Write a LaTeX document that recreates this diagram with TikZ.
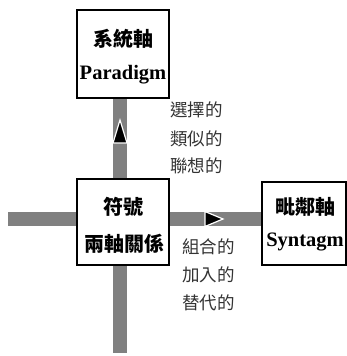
\documentclass[tikz,border=0pt]{standalone}
\usepackage{fontspec}
\setmainfont{Liberation Serif}
\newfontfamily\cjk{Noto Sans CJK TC}
\begin{document}
\begin{tikzpicture}[x=1pt,y=-1pt,
  box/.style={draw=black,line width=1.8pt,fill=white,inner sep=0pt},
  bar/.style={draw=black!50,line width=14pt},
  tri/.style={fill=black,draw=white,line width=1.2pt},
  zh/.style={font=\cjk\bfseries\fontsize{20}{22}\selectfont},
  en/.style={font=\bfseries\fontsize{20.5}{22}\selectfont},
  lab/.style={font=\cjk\fontsize{17.5}{19}\selectfont,text=black!80,anchor=west,inner sep=0pt}]
\useasboundingbox (0,0) rectangle (347,356);
% coordinates for the bars
\coordinate (vt) at (120,98);
\coordinate (vb) at (120,353);
\coordinate (hl) at (8,218.5);
\coordinate (hr) at (262,218.5);
% bars
\draw[bar] (vt) -- (vb);
\draw[bar] (hl) -- (hr);
% boxes
\node[box,minimum width=92pt,minimum height=88pt] (top) at (123,54) {};
\node[zh] (topzh) at (123,39) {系統軸};
\node[en] (topen) at (123,75) {Paradigm};
\node[box,minimum width=92pt,minimum height=86pt] (mid) at (123,222) {};
\node[zh] (midzh1) at (123,207) {符號};
\node[zh] (midzh2) at (124,244) {兩軸關係};
\node[box,minimum width=84pt,minimum height=83pt] (right) at (304,223.5) {};
\node[zh] (rzh) at (305,207) {毗鄰軸};
\node[en] (ren) at (305,242) {Syntagm};
% arrow marks
\path[tri] (113,143) -- (127,143) -- (120,120) -- cycle;
\path[tri] (205,211.5) -- (205,226.5) -- (223,219) -- cycle;
% labels
\node[lab] (u1) at (170,110) {選擇的};
\node[lab] (u2) at (170,139) {類似的};
\node[lab] (u3) at (170,166) {聯想的};
\node[lab] (d1) at (182,247) {組合的};
\node[lab] (d2) at (182,275) {加入的};
\node[lab] (d3) at (182,303) {替代的};
\end{tikzpicture}
\end{document}
